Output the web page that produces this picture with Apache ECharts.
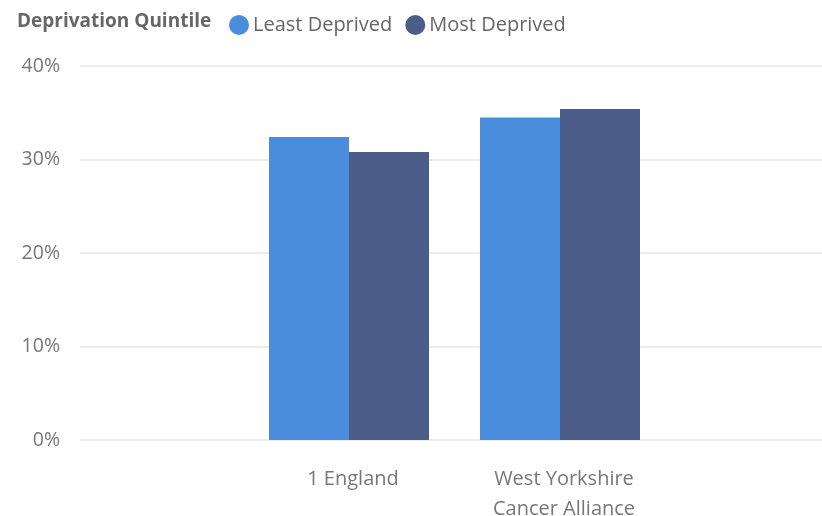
<!DOCTYPE html>
<html><head><meta charset="utf-8">
<script src="https://cdn.jsdelivr.net/npm/echarts@6/dist/echarts.min.js"></script>
<style>html,body{margin:0;padding:0;background:#fff}#c{width:822px;height:516px}</style>
</head><body><div id="c"></div>
<script>
const categories = ['1 England', 'West Yorkshire\nCancer Alliance'];
const seriesNames = ['Least Deprived', 'Most Deprived'];
const leastDeprived = [0.324, 0.345];
const mostDeprived = [0.308, 0.354];
const colors = ['#4A8DDC', '#4C5D8A'];
const yMin = 0, yMax = 0.4, yStep = 0.1;

const FONT = 'Open Sans';
const chart = echarts.init(document.getElementById('c'));
chart.setOption({
  animation: false,
  textStyle: { fontFamily: FONT },
  color: colors,
  graphic: [{
    type: 'text', left: 17, top: 12,
    style: { text: 'Deprivation Quintile', font: 'bold 19px "Open Sans"', fill: '#666666' }
  }],
  legend: {
    left: 224, top: 10, icon: 'circle', itemWidth: 20, itemHeight: 20, itemGap: 13,
    textStyle: { fontSize: 20, color: '#666666', fontFamily: FONT, padding: [0, 0, 0, -1] },
    data: seriesNames
  },
  grid: [
    { left: 80, right: 0, top: 66, bottom: 76, outerBoundsMode: 'none', containLabel: false },
    { left: 243.5, right: 156.5, top: 66, bottom: 76, outerBoundsMode: 'none', containLabel: false }
  ],
  xAxis: [
    { gridIndex: 0, type: 'category', data: categories, show: false },
    { gridIndex: 1, type: 'category', data: categories,
      axisLine: { show: false }, axisTick: { show: false },
      axisLabel: { fontSize: 20, color: '#777777', lineHeight: 30, margin: 24, fontFamily: FONT, padding: [0, 0, 0, 8] } }
  ],
  yAxis: [
    { gridIndex: 0, type: 'value', min: yMin, max: yMax, interval: yStep,
      axisLine: { show: false }, axisTick: { show: false },
      axisLabel: { fontSize: 19.5, color: '#777777', margin: 20, fontFamily: FONT,
        formatter: v => Math.round(v * 100) + '%' },
      splitLine: { lineStyle: { color: '#E6E6E6', width: 1.5 } } },
    { gridIndex: 1, type: 'value', min: yMin, max: yMax, interval: yStep, show: false,
      splitLine: { show: false } }
  ],
  series: [
    { name: seriesNames[0], type: 'bar', xAxisIndex: 1, yAxisIndex: 1, data: leastDeprived,
      barWidth: 80, barGap: '0%', itemStyle: { color: colors[0] } },
    { name: seriesNames[1], type: 'bar', xAxisIndex: 1, yAxisIndex: 1, data: mostDeprived,
      barWidth: 80, barGap: '0%', itemStyle: { color: colors[1] } }
  ]
});
</script></body></html>
